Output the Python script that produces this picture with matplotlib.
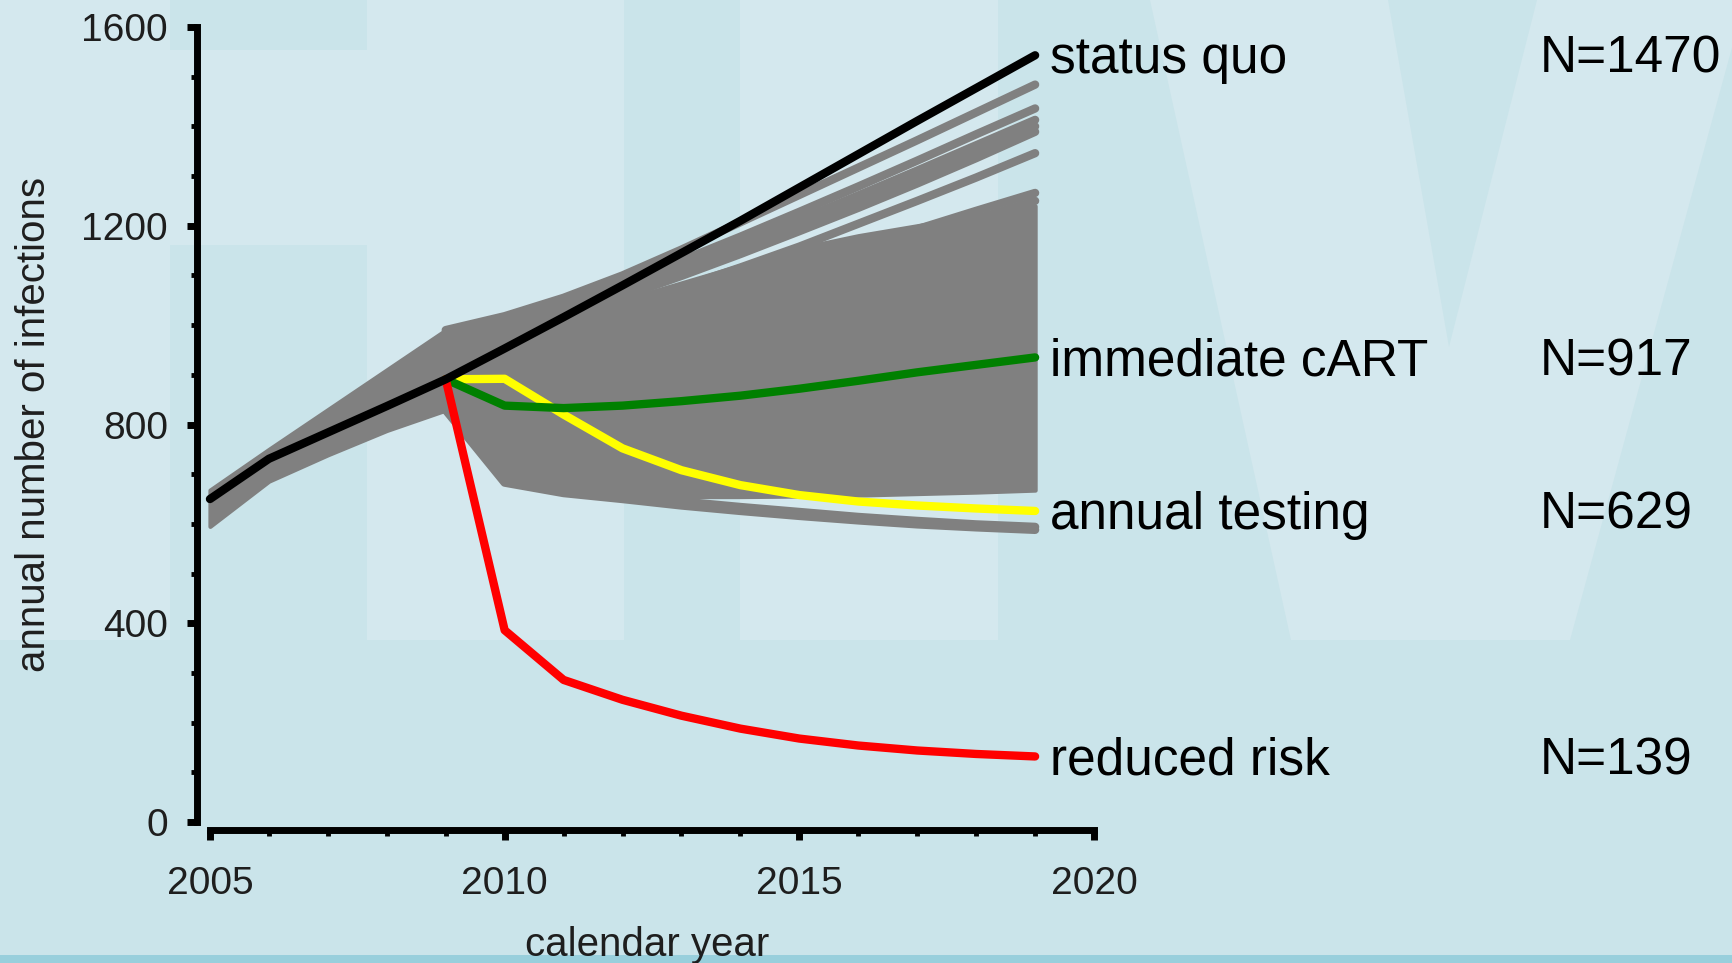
import matplotlib
matplotlib.use("Agg")
import matplotlib.pyplot as plt
from matplotlib.patches import Rectangle, Polygon
from matplotlib.ticker import MultipleLocator
from matplotlib.transforms import blended_transform_factory

plt.rcParams['font.family'] = ['Liberation Sans', 'DejaVu Sans']

# years
years_pre = [2005, 2006, 2007, 2008, 2009]
years_post = [2009, 2010, 2011, 2012, 2013, 2014, 2015, 2016, 2017, 2018, 2019]
years_all = years_pre[:-1] + years_post

# scenario curves (annual number of infections)
status_quo = [650, 731, 784, 837, 891, 953, 1016, 1080, 1145, 1210, 1277, 1344, 1411, 1477, 1543]
immediate_cart = [891, 838, 833, 838, 847, 858, 872, 888, 905, 920, 935]
annual_testing = [891, 892, 820, 752, 708, 678, 658, 645, 637, 631, 626]
reduced_risk = [891, 386, 286, 246, 214, 188, 168, 154, 144, 137, 132]

# envelope of the dense grey bundle of sensitivity runs
band_upper = [668, 750, 830, 910, 990, 985, 1015, 1050, 1085, 1120, 1155, 1180, 1200, 1220, 1240]
band_lower = [595, 686, 739, 788, 829, 685, 663, 657, 655, 655, 656, 658, 661, 664, 668]

# individual grey runs outside the dense bundle
grey_runs = [
    [990, 1018, 1055, 1100, 1152, 1207, 1262, 1317, 1372, 1428, 1484],
    [975, 1005, 1042, 1084, 1130, 1178, 1228, 1279, 1331, 1384, 1436],
    [968, 998, 1034, 1074, 1118, 1164, 1212, 1261, 1311, 1362, 1413],
    [962, 992, 1027, 1066, 1109, 1154, 1201, 1249, 1298, 1348, 1400],
    [955, 985, 1019, 1057, 1099, 1143, 1189, 1236, 1285, 1336, 1389],
    [945, 972, 1003, 1038, 1076, 1116, 1158, 1204, 1250, 1297, 1346],
    [935, 958, 984, 1013, 1045, 1080, 1117, 1155, 1193, 1230, 1266],
    [930, 952, 977, 1005, 1036, 1069, 1104, 1140, 1177, 1214, 1250],
    [829, 683, 662, 650, 637, 626, 616, 607, 599, 593, 588],
    [835, 688, 665, 655, 645, 634, 624, 614, 606, 599, 594],
]

labels = ["status quo", "immediate cART", "annual testing", "reduced risk"]
n_labels = ["N=1470", "N=917", "N=629", "N=139"]

W, H = 1733, 963
fig = plt.figure(figsize=(W / 100, H / 100), dpi=100)
dark_bg = "#cae4ea"
light_bg = "#d4e8ee"
fig.patch.set_facecolor(dark_bg)

# background watermark ("HIV" letters), in pixel coordinates
bg = fig.add_axes([0, 0, 1, 1], zorder=-10)
bg.set_xlim(0, W)
bg.set_ylim(H, 0)
bg.axis("off")
bg.add_patch(Rectangle((0, 0), 170, 640, color=light_bg, lw=0))
bg.add_patch(Rectangle((170, 50), 197, 195, color=light_bg, lw=0))
bg.add_patch(Rectangle((367, 0), 257, 640, color=light_bg, lw=0))
bg.add_patch(Rectangle((740, 0), 258, 640, color=light_bg, lw=0))
bg.add_patch(Polygon([(1150, 0), (1291, 640), (1570, 640), (1745, 0),
                      (1537, 0), (1449, 347), (1388, 0)], closed=True,
                     color=light_bg, lw=0))
bg.add_patch(Rectangle((0, 955), W, 10, color="#98cfdc", lw=0))

# main axes
ax = fig.add_axes([197 / W, 133 / H, 900 / W, 810.5 / H])
ax.set_facecolor("none")
ax.set_xlim(2004.78, 2020.05)
ax.set_ylim(-16, 1615)

grey = "#808080"
ax.fill_between(years_all, band_lower, band_upper, color=grey, lw=3, zorder=1)
for run in grey_runs:
    ax.plot(years_post, run, color=grey, lw=6, solid_capstyle="round", zorder=2)

lw = 6
ax.plot(years_post, annual_testing, color="#ffff00", lw=lw, solid_capstyle="round", zorder=4)
ax.plot(years_post, immediate_cart, color="#008000", lw=lw, solid_capstyle="round", zorder=5)
ax.plot(years_post, reduced_risk, color="#ff0000", lw=lw, solid_capstyle="round", zorder=5)
ax.plot(years_all, status_quo, color="black", lw=lw, solid_capstyle="round", zorder=6)

# labels at the end of each highlighted scenario
ends = [status_quo[-1], immediate_cart[-1], annual_testing[-1], reduced_risk[-1]]
trans = blended_transform_factory(fig.transFigure, ax.transData)
for lab, nlab, yv in zip(labels, n_labels, ends):
    ax.annotate(lab, xy=(2019, yv), xytext=(11, -3), textcoords="offset points",
                fontsize=37, va="center", ha="left", color="black",
                annotation_clip=False)
    ax.annotate(nlab, xy=(1540 / W, yv), xycoords=trans, xytext=(0, -3),
                textcoords="offset points", fontsize=37, va="center",
                ha="left", color="black", annotation_clip=False)

# axes styling (R-like detached axes)
for side in ["top", "right"]:
    ax.spines[side].set_visible(False)
ax.spines["left"].set_bounds(0, 1600)
ax.spines["bottom"].set_bounds(2005, 2020)
for side in ["left", "bottom"]:
    ax.spines[side].set_linewidth(5)

ax.set_xticks([2005, 2010, 2015, 2020])
ax.set_yticks([0, 400, 800, 1200, 1600])
ax.xaxis.set_minor_locator(MultipleLocator(1))
ax.yaxis.set_minor_locator(MultipleLocator(100))
ax.tick_params(which="major", length=7, width=5, labelsize=28,
               labelcolor="#1e1e1e", color="black")
ax.tick_params(which="minor", length=4, width=3.5, color="black")
ax.tick_params(axis="y", which="major", pad=14)
ax.tick_params(axis="x", which="major", pad=19)

ax.set_ylabel("annual number of infections", fontsize=29, color="#1e1e1e", labelpad=20)
ax.set_xlabel("calendar year", fontsize=29, color="#1e1e1e", labelpad=17)

fig.savefig("out.png", dpi=100, facecolor=fig.get_facecolor())
